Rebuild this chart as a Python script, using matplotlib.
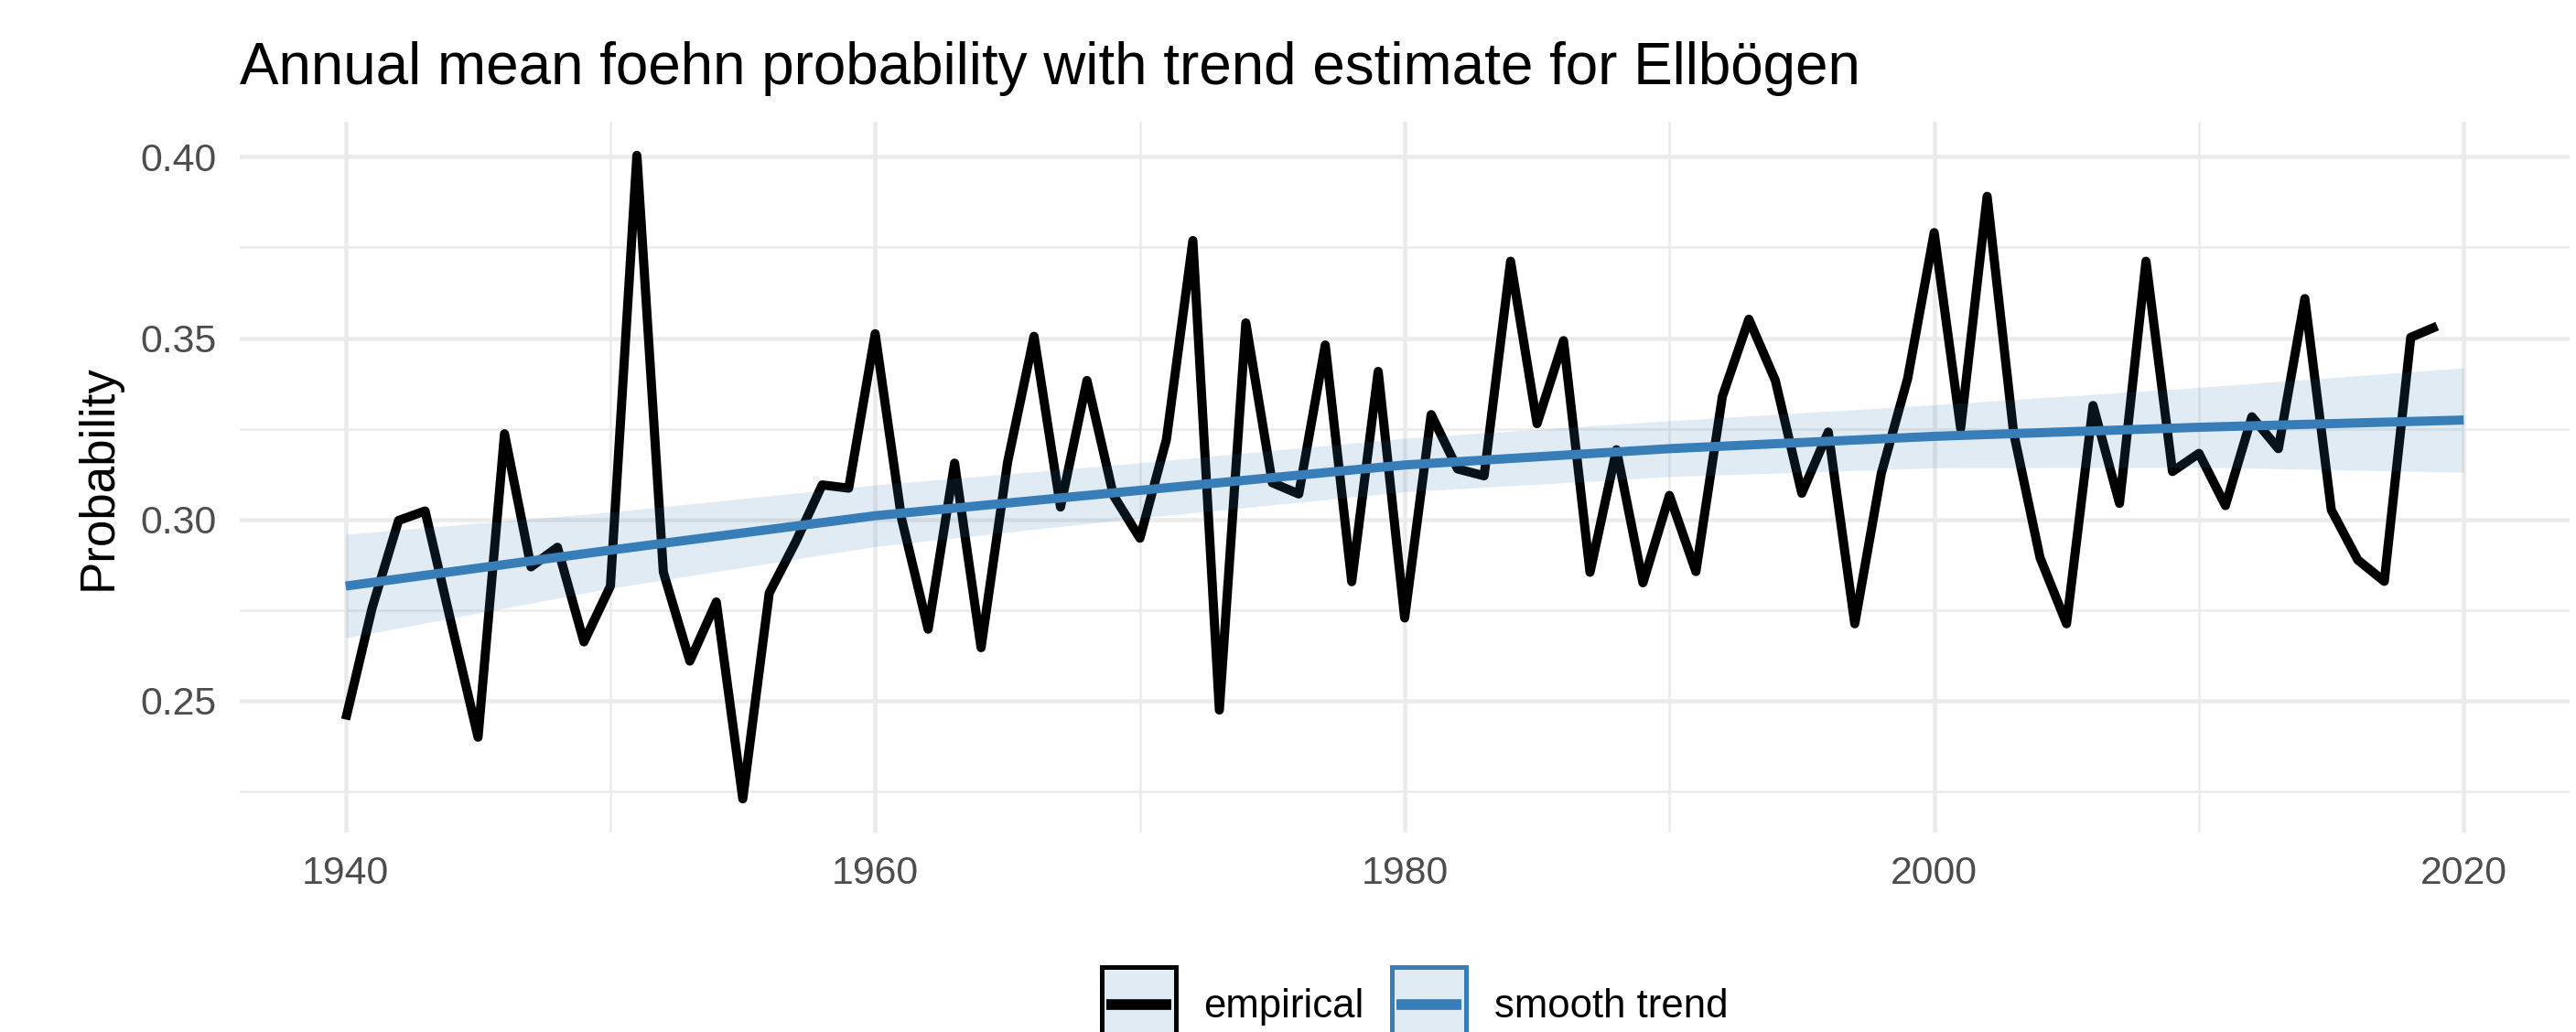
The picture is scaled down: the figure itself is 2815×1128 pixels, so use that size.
import matplotlib
matplotlib.use('Agg')
import matplotlib.pyplot as plt
from matplotlib.lines import Line2D
from matplotlib.patches import Rectangle
from matplotlib.ticker import MultipleLocator, FormatStrFormatter

plt.rcParams['font.family'] = ['Liberation Sans', 'DejaVu Sans']

# annual mean foehn probability
years = list(range(1940, 2020))
prob = [0.2448, 0.2756, 0.2997, 0.3023, 0.2710, 0.2399, 0.3236, 0.2869, 0.2923, 0.2662,
        0.2816, 0.4004, 0.2854, 0.2609, 0.2772, 0.2229, 0.2797, 0.2938, 0.3095, 0.3086,
        0.3512, 0.3001, 0.2697, 0.3155, 0.2646, 0.3157, 0.3505, 0.3034, 0.3383, 0.3066,
        0.2948, 0.3220, 0.3769, 0.2474, 0.3542, 0.3101, 0.3070, 0.3481, 0.2828, 0.3408,
        0.2728, 0.3289, 0.3139, 0.3120, 0.3712, 0.3264, 0.3493, 0.2854, 0.3192, 0.2825,
        0.3066, 0.2856, 0.3339, 0.3552, 0.3383, 0.3072, 0.3241, 0.2712, 0.3126, 0.3389,
        0.3791, 0.3251, 0.3891, 0.3239, 0.2894, 0.2712, 0.3314, 0.3044, 0.3712, 0.3132,
        0.3182, 0.3038, 0.3283, 0.3195, 0.3609, 0.3026, 0.2888, 0.2829, 0.3502, 0.3533]

# smooth trend with confidence band
trend_years = [1940, 1950, 1960, 1970, 1980, 1990, 2000, 2010, 2020]
trend = [0.2816, 0.2915, 0.3010, 0.3080, 0.3150, 0.3195, 0.3229, 0.3254, 0.3274]
trend_lo = [0.2673, 0.2810, 0.2925, 0.3004, 0.3076, 0.3118, 0.3142, 0.3144, 0.3130]
trend_hi = [0.2959, 0.3020, 0.3095, 0.3156, 0.3224, 0.3272, 0.3316, 0.3364, 0.3418]

blue = '#377EB8'
grid = '#EBEBEB'
band_fill = (0.216, 0.494, 0.722, 0.15)


class KeyHandler:
    # ggplot-like key: filled box with coloured border and a line inside
    def __init__(self, color):
        self.color = color

    def legend_artist(self, legend, orig_handle, fontsize, handlebox):
        w = handlebox.width
        x0 = -handlebox.xdescent
        yc = -handlebox.ydescent + handlebox.height / 2
        side = 1.87 * fontsize
        tr = handlebox.get_transform()
        box = Rectangle((x0, yc - side / 2), w, side, facecolor=band_fill,
                        edgecolor=self.color, lw=1.2, transform=tr)
        inset = w * 0.06
        ln = Line2D([x0 + inset, x0 + w - inset], [yc, yc], color=self.color,
                    lw=2.8, solid_capstyle='butt', transform=tr)
        handlebox.add_artist(box)
        handlebox.add_artist(ln)
        return box


W, H = 2815, 1128
fig = plt.figure(figsize=(W / 300, H / 300), dpi=300)
ax = fig.add_axes([262 / W, (H - 910) / H, (2808 - 262) / W, (910 - 133) / H])

ax.plot(years, prob, color='black', lw=2.4, solid_joinstyle='round',
        solid_capstyle='butt', zorder=3)
ax.fill_between(trend_years, trend_lo, trend_hi, color=blue, alpha=0.15,
                lw=0, zorder=4)
ax.plot(trend_years, trend, color=blue, lw=2.4, solid_capstyle='butt', zorder=5)

ax.set_xlim(1936, 2024)
ax.set_ylim(0.2136, 0.4097)
ax.xaxis.set_major_locator(MultipleLocator(20))
ax.xaxis.set_minor_locator(MultipleLocator(10))
ax.yaxis.set_major_locator(MultipleLocator(0.05))
ax.yaxis.set_minor_locator(MultipleLocator(0.025))
ax.yaxis.set_major_formatter(FormatStrFormatter('%.2f'))

ax.grid(which='major', color=grid, lw=1.1, zorder=0)
ax.grid(which='minor', color=grid, lw=0.6, zorder=0)
ax.set_axisbelow(True)
for s in ax.spines.values():
    s.set_visible(False)
ax.tick_params(which='both', length=0, labelsize=10.3, labelcolor='#4D4D4D')
ax.tick_params(axis='y', pad=6.2)
ax.tick_params(axis='x', pad=6.0)

ax.set_ylabel('Probability', fontsize=12.7, labelpad=4.8)
fig.text(262 / W, 1 - 92 / H, 'Annual mean foehn probability with trend estimate for Ellbögen',
         fontsize=15.3, ha='left', va='baseline')

h1 = Line2D([], [], color='black')
h2 = Line2D([], [], color=blue)
fig.legend([h1, h2], ['empirical', 'smooth trend'], loc='center',
           bbox_to_anchor=(1546 / W, (H - 1098) / H), ncol=2, frameon=False,
           fontsize=10.5, handlelength=1.85, handleheight=1.87,
           handletextpad=0.7, columnspacing=0.7, borderpad=0,
           handler_map={h1: KeyHandler('black'), h2: KeyHandler(blue)})

fig.savefig('out.png', dpi=300)
